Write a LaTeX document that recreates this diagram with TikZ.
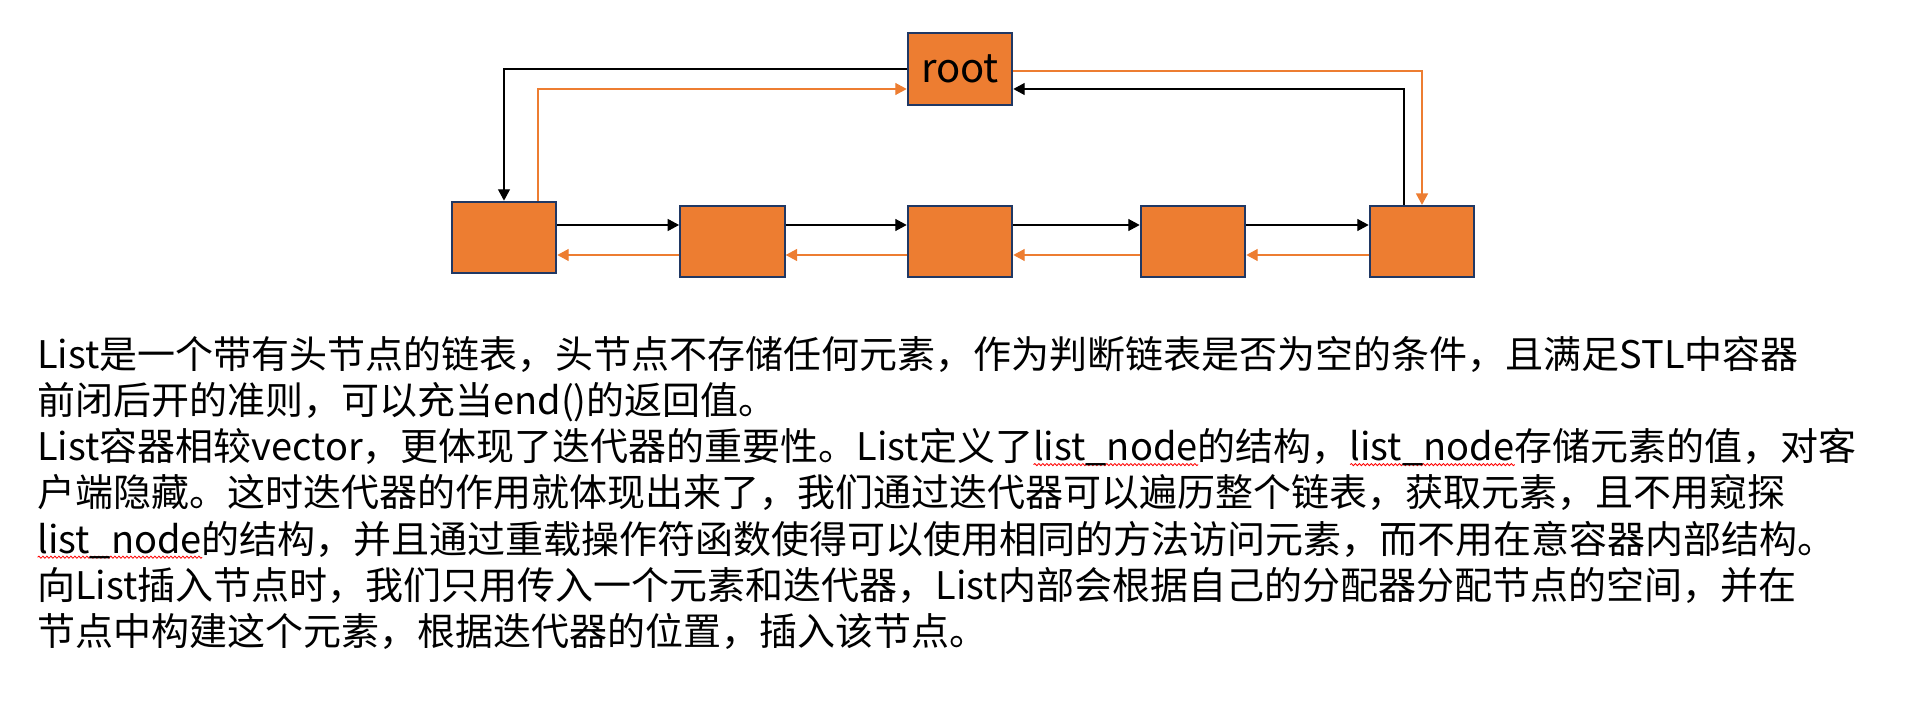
\documentclass[tikz,border=0pt]{standalone}
\usepackage{fontspec}
\setmainfont{Noto Sans CJK SC}
\usepackage{tikz}
\usetikzlibrary{arrows.meta, calc, decorations.pathmorphing}
\definecolor{nodeorange}{RGB}{237,125,49}
\definecolor{nodenavy}{RGB}{32,56,100}
\newsavebox{\wavebox}
\newcommand{\squiggle}[1]{\sbox{\wavebox}{#1}\rlap{\tikz[baseline=0pt]\draw[red, line width=0.6pt, decorate, decoration={snake, amplitude=0.8pt, segment length=3pt}] (0pt,-3pt) -- (\wd\wavebox,-3pt);}\usebox{\wavebox}}

\begin{document}
\begin{tikzpicture}[x=0.75pt, y=-0.75pt,
  cell/.style={rectangle, draw=nodenavy, line width=1.5pt, fill=nodeorange, minimum width=78.5pt, minimum height=53.5pt, inner sep=0pt},
  nextarrow/.style={-{Triangle[width=9pt,length=8.5pt]}, line width=0.85pt, black},
  prevarrow/.style={-{Triangle[width=9pt,length=8.5pt]}, line width=0.85pt, nodeorange},
  para/.style={anchor=base west, inner sep=0pt, font=\fontsize{28.5}{34.7}\selectfont}
]
\useasboundingbox (0,0) rectangle (1931,709);

\node[cell, font=\fontsize{30}{36}\selectfont] (root) at (960,69) {root};
\node[cell] (n1) at (504,237.3) {};
\node[cell] (n2) at (732.4,241.5) {};
\node[cell] (n3) at (960,241.5) {};
\node[cell] (n4) at (1193,241.5) {};
\node[cell] (n5) at (1422,241.5) {};

\coordinate (fwd) at (0,225);
\coordinate (bwd) at (0,255);
\foreach \a/\b in {n1/n2, n2/n3, n3/n4, n4/n5} {
  \draw[nextarrow] (\a.east |- fwd) -- (\b.west |- fwd);
  \draw[prevarrow] (\b.west |- bwd) -- (\a.east |- bwd);
}

\draw[nextarrow] (root.west) -| (n1.north);
\draw[prevarrow] ($(n1.north)+(34,0)$) |- ($(root.west)+(0,20)$);
\draw[prevarrow] ($(root.east)+(0,2)$) -| (n5.north);
\draw[nextarrow] ($(n5.north)+(-18,0)$) |- ($(root.east)+(0,20)$);

\node[para] (t1) at (37,368) {List是一个带有头节点的链表，头节点不存储任何元素，作为判断链表是否为空的条件，且满足STL中容器};
\node[para] (t2) at (37,414.3) {前闭后开的准则，可以充当end()的返回值。};
\node[para] (t3) at (37,460.6) {List容器相较vector，更体现了迭代器的重要性。List定义了\squiggle{list\_node}的结构，\squiggle{list\_node}存储元素的值，对客};
\node[para] (t4) at (37,506.9) {户端隐藏。这时迭代器的作用就体现出来了，我们通过迭代器可以遍历整个链表，获取元素，且不用窥探};
\node[para] (t5) at (37,553.2) {\squiggle{list\_node}的结构，并且通过重载操作符函数使得可以使用相同的方法访问元素，而不用在意容器内部结构。};
\node[para] (t6) at (37,599.5) {向List插入节点时，我们只用传入一个元素和迭代器，List内部会根据自己的分配器分配节点的空间，并在};
\node[para] (t7) at (37,645.8) {节点中构建这个元素，根据迭代器的位置，插入该节点。};
\end{tikzpicture}
\end{document}
